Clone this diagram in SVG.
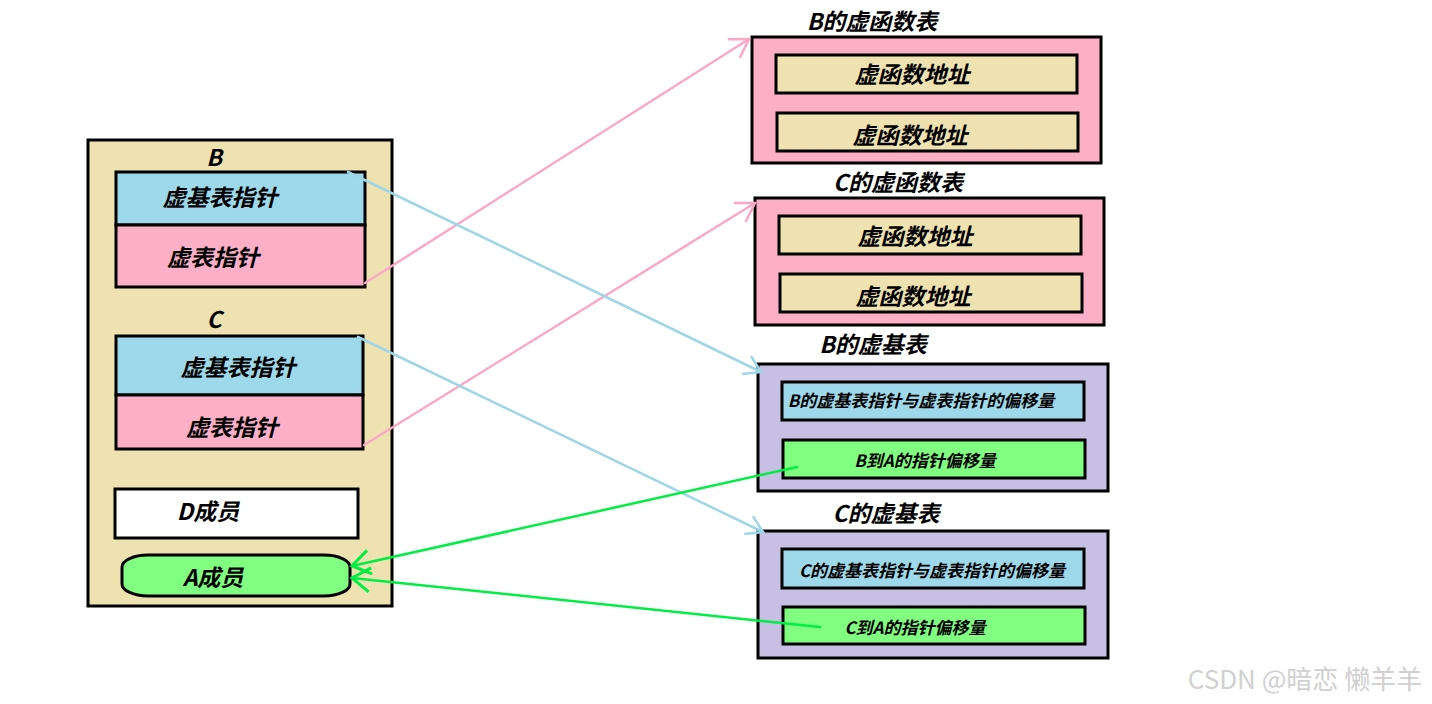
<svg xmlns="http://www.w3.org/2000/svg" width="1432" height="704" viewBox="0 0 1432 704">
<defs>
<style>
.t{font-family:"Noto Sans CJK SC","Liberation Sans",sans-serif;font-weight:bold;font-style:italic;fill:#000;text-anchor:middle;dominant-baseline:central}
.l{font-size:23px}
.s{font-size:17px}
.m{font-size:17px}
.box{stroke:#000;stroke-width:3}
.tan{fill:#EFE2B1}
.blue{fill:#9DD9EA}
.pink{fill:#FDAFC8}
.purple{fill:#C7BFE4}
.green{fill:#80FF80}
.white{fill:#fff}
.c{fill:none;stroke-width:2.5;stroke-linecap:round}
.cp{stroke:#FBA8C6}
.cb{stroke:#9ED6E8}
.cg{stroke:#00EE44}
</style>
<marker id="ap" markerWidth="30" markerHeight="30" refX="22" refY="15" orient="auto" markerUnits="userSpaceOnUse"><path d="M4,4 L22,15 L4,26" fill="none" stroke="#FBA8C6" stroke-width="2.5"/></marker>
<marker id="ab" markerWidth="30" markerHeight="30" refX="22" refY="15" orient="auto" markerUnits="userSpaceOnUse"><path d="M6,5 L22,15 L6,25" fill="none" stroke="#9ED6E8" stroke-width="2.5"/></marker>
<marker id="ag" markerWidth="34" markerHeight="34" refX="24" refY="17" orient="auto" markerUnits="userSpaceOnUse"><path d="M6,5 L24,17 L6,29" fill="none" stroke="#00EE44" stroke-width="3"/></marker>
</defs>
<rect width="1432" height="704" fill="#fff"/>

<g id="obj">
<rect class="box tan" x="88" y="140" width="304" height="466"/>
<text class="t l" x="214" y="156">B</text>
<text class="t l" x="214" y="318">C</text>
</g>
<g id="B-vbptr"><rect class="box blue" x="116" y="172" width="249" height="53"/><text class="t l" x="220" y="196">虚基表指针</text></g>
<g id="B-vptr"><rect class="box pink" x="116" y="225" width="249" height="62"/><text class="t l" x="213" y="256">虚表指针</text></g>
<g id="C-vbptr"><rect class="box blue" x="116" y="336" width="247" height="59"/><text class="t l" x="238" y="366">虚基表指针</text></g>
<g id="C-vptr"><rect class="box pink" x="116" y="395" width="247" height="54"/><text class="t l" x="232" y="426">虚表指针</text></g>
<g id="D-member"><rect class="box white" x="115" y="489" width="243" height="49"/><text class="t l" x="208" y="510">D成员</text></g>
<g id="A-member"><rect class="box green" x="122" y="555" width="228" height="41" rx="26" ry="12"/><text class="t l" x="213" y="576">A成员</text></g>

<g id="B-vftable">
<text class="t l" x="872" y="20">B的虚函数表</text>
<rect class="box pink" x="752" y="37" width="349" height="126"/>
<rect class="box tan" x="776" y="55" width="301" height="38"/><text class="t l" x="912" y="73">虚函数地址</text>
<rect class="box tan" x="777" y="113" width="301" height="38"/><text class="t l" x="910" y="134">虚函数地址</text>
</g>
<g id="C-vftable">
<text class="t l" x="898" y="181">C的虚函数表</text>
<rect class="box pink" x="755" y="198" width="349" height="127"/>
<rect class="box tan" x="779" y="216" width="302" height="38"/><text class="t l" x="915" y="235">虚函数地址</text>
<rect class="box tan" x="780" y="274" width="302" height="38"/><text class="t l" x="913" y="295">虚函数地址</text>
</g>
<g id="B-vbtable">
<text class="t l" x="873" y="343">B的虚基表</text>
<rect class="box purple" x="758" y="364" width="350" height="127"/>
<rect class="box blue" x="782" y="382" width="302" height="38"/><text class="t s" x="921" y="399">B的虚基表指针与虚表指针的偏移量</text>
<rect class="box green" x="783" y="440" width="302" height="38"/><text class="t m" x="925" y="459">B到A的指针偏移量</text>
</g>
<g id="C-vbtable">
<text class="t l" x="886" y="512">C的虚基表</text>
<rect class="box purple" x="758" y="531" width="350" height="127"/>
<rect class="box blue" x="782" y="549" width="302" height="39"/><text class="t s" x="932" y="569">C的虚基表指针与虚表指针的偏移量</text>
<rect class="box green" x="783" y="607" width="302" height="37"/><text class="t m" x="915" y="626">C到A的指针偏移量</text>
</g>

<g id="connectors">
<path class="c cp" d="M365,283 L749,39" marker-end="url(#ap)"/>
<path class="c cp" d="M364,445 L755,203" marker-end="url(#ap)"/>
<path class="c cb" d="M348,172 L761,372" marker-end="url(#ab)"/>
<path class="c cb" d="M358,337 L763,532" marker-end="url(#ab)"/>
<path class="c cg" d="M797,467 L352,566" marker-end="url(#ag)"/>
<path class="c cg" d="M820,627 L352,578" marker-end="url(#ag)"/>
</g>

<text x="1305" y="677" font-family="Noto Sans CJK SC, Liberation Sans, sans-serif" font-size="26" fill="#D0D0D0" text-anchor="middle" dominant-baseline="central">CSDN @暗恋 懒羊羊</text>
</svg>
